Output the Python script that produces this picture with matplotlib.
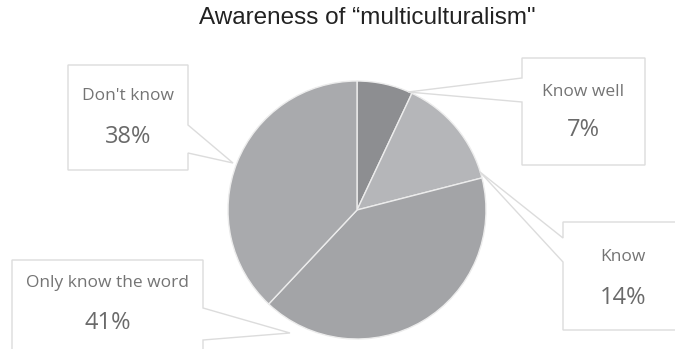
import matplotlib
matplotlib.use("Agg")
import matplotlib.pyplot as plt
from matplotlib.patches import Polygon

# data
labels = ["Know well", "Know", "Only know the word", "Don't know"]
shares = [7, 14, 41, 38]
colors = ["#8d8e91", "#b5b6b9", "#a3a4a7", "#a9aaad"]

W, H = 675, 349
fig = plt.figure(figsize=(W / 100, H / 100), dpi=100)
ax = fig.add_axes([0, 0, 1, 1])

# pie, pixel coords (y flipped)
cx, cy, r = 357, H - 210, 129
ax.pie(shares, colors=colors, startangle=90, counterclock=False,
       center=(cx, cy), radius=r, frame=True,
       wedgeprops=dict(edgecolor="#ececec", linewidth=1.0))
ax.set_xlim(0, W)
ax.set_ylim(0, H)
ax.set_aspect("equal")
ax.axis("off")

fig.text(367 / W, 1 - 18 / H, "Awareness of \u201cmulticulturalism\"",
         ha="center", va="center", fontsize=17.5, color="#222222",
         family="Liberation Sans")

# callout boxes: (x0, y0, x1, y1) in px from top, pointer base on side, tip
boxes = [
    # Know well
    dict(box=(522, 58, 645, 165), side="left", base=(78, 102), tip=(408, 92),
         ty=(92, 130)),
    # Know
    dict(box=(563, 222, 690, 330), side="left", base=(238, 262), tip=(480, 172),
         ty=(257, 298)),
    # Only know the word
    dict(box=(12, 260, 203, 360), side="right", base=(308, 340), tip=(290, 333),
         ty=(283, 323)),
    # Don't know
    dict(box=(68, 65, 188, 170), side="right", base=(125, 153), tip=(233, 163),
         ty=(96, 137)),
]

def fy(y):
    return H - y

for lab, val, b in zip(labels, shares, boxes):
    x0, y0, x1, y1 = b["box"]
    b0, b1 = b["base"]
    tx, tyy = b["tip"]
    if b["side"] == "left":
        pts = [(x0, y0), (x1, y0), (x1, y1), (x0, y1), (x0, b1), (tx, tyy), (x0, b0)]
    else:
        pts = [(x0, y0), (x1, y0), (x1, b0), (tx, tyy), (x1, b1), (x1, y1), (x0, y1)]
    poly = Polygon([(px, fy(py)) for px, py in pts], closed=True,
                   facecolor="white", edgecolor="#dcdcdc", linewidth=1.0,
                   zorder=5)
    ax.add_patch(poly)
    xc = (x0 + min(x1, W)) / 2
    if lab == "Know":
        xc = 623
    ax.text(xc, fy(b["ty"][0]), lab, ha="center", va="center",
            fontsize=12.5, color="#747474", family="Open Sans", zorder=6)
    ax.text(xc, fy(b["ty"][1]), f"{val}%", ha="center", va="center",
            fontsize=17, color="#6a6a6a", family="Open Sans", zorder=6)

fig.savefig("out.png", dpi=100, facecolor="white")
